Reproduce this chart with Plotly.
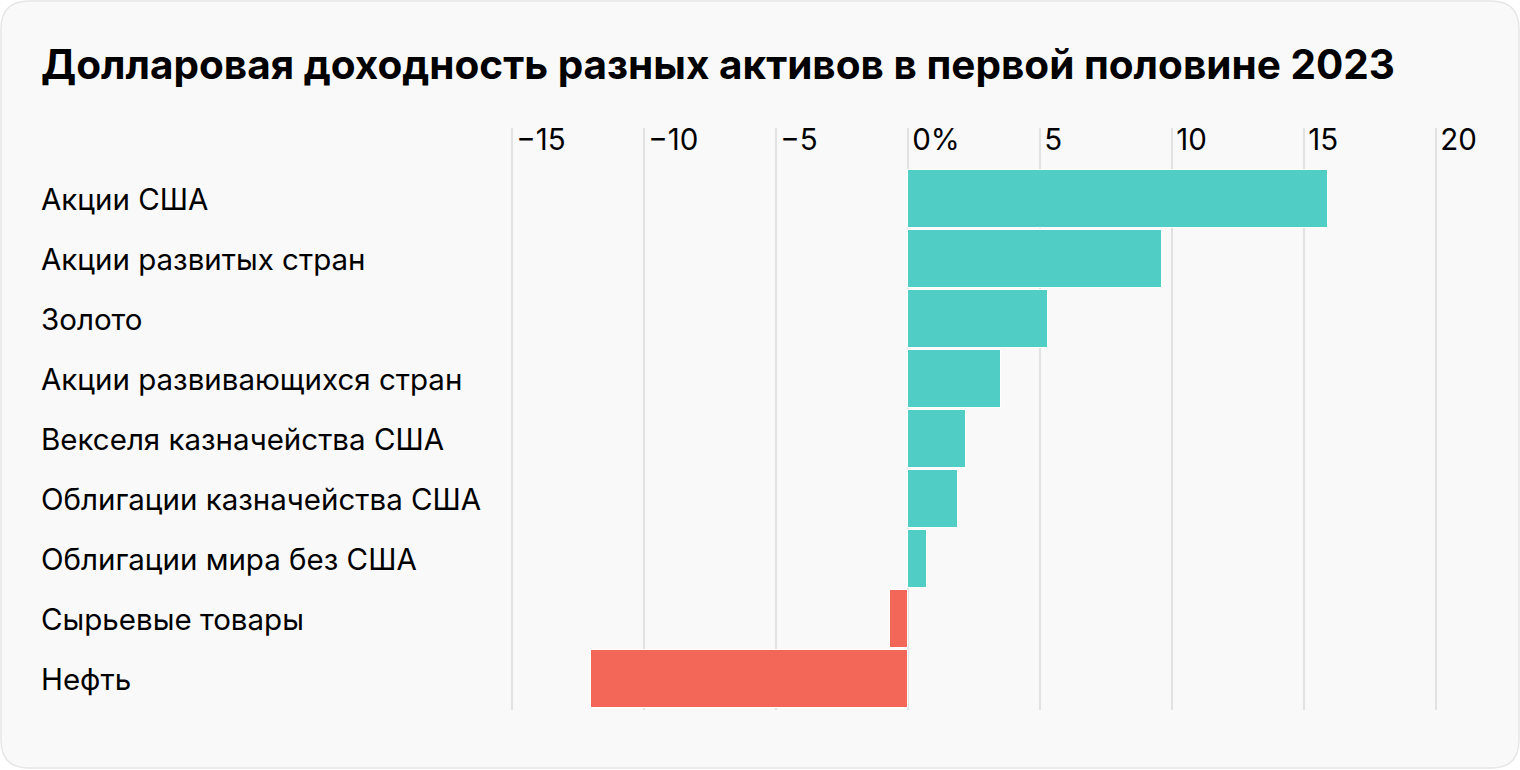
import plotly.graph_objects as go

# ---- data ----
categories = [
    "Акции США",
    "Акции развитых стран",
    "Золото",
    "Акции развивающихся стран",
    "Векселя казначейства США",
    "Облигации казначейства США",
    "Облигации мира без США",
    "Сырьевые товары",
    "Нефть",
]
values = [15.9, 9.6, 5.3, 3.5, 2.2, 1.9, 0.7, -0.7, -12.0]
tick_values = [-15, -10, -5, 0, 5, 10, 15, 20]
tick_labels = ["−15", "−10", "−5", "0%", "5", "10", "15", "20"]
title_text = "Долларовая доходность разных активов в первой половине 2023"

# ---- styling ----
W, H = 1520, 770
POS_COLOR = "#50CDC4"
NEG_COLOR = "#F26757"
CARD_COLOR = "#F9F9F9"
CARD_LINE = "#E6E6E6"
GRID_COLOR = "#E2E2E2"
FONT = "Inter, Roboto, sans-serif"
TEXT_COLOR = "#000000"

UNIT = 26.4  # px per 1 percentage point
xr = [-15.2, 22.0]
L, T = 507, 128
PW = round((xr[1] - xr[0]) * UNIT)
PH = 582
R = W - L - PW
B = H - T - PH
n = len(categories)
yr = [n - 1 + 0.517, n - 1 + 0.517 - PH / 60.0]


def px_to_paper_x(px):
    return (px - L) / PW


def px_to_paper_y(py):
    return 1 - (py - T) / PH


ypos = list(range(n))
colors = [POS_COLOR if v >= 0 else NEG_COLOR for v in values]

fig = go.Figure()
fig.add_trace(
    go.Bar(
        x=values,
        y=ypos,
        orientation="h",
        width=0.967,
        marker=dict(color=colors, line=dict(color="#FFFFFF", width=1)),
        hoverinfo="skip",
    )
)

# card background with rounded corners
x0, y0 = px_to_paper_x(1), px_to_paper_y(1)
x1, y1 = px_to_paper_x(W - 1), px_to_paper_y(H - 2)
rx = 28 / PW
ry = 28 / PH
path = (
    f"M {x0 + rx},{y0} L {x1 - rx},{y0} "
    f"Q {x1},{y0} {x1},{y0 - ry} "
    f"L {x1},{y1 + ry} Q {x1},{y1} {x1 - rx},{y1} "
    f"L {x0 + rx},{y1} Q {x0},{y1} {x0},{y1 + ry} "
    f"L {x0},{y0 - ry} Q {x0},{y0} {x0 + rx},{y0} Z"
)
fig.add_shape(
    type="path",
    path=path,
    xref="paper",
    yref="paper",
    fillcolor=CARD_COLOR,
    line=dict(color=CARD_LINE, width=1.5),
    layer="below",
)

# category labels (left aligned)
for i, c in enumerate(categories):
    fig.add_annotation(
        x=px_to_paper_x(41),
        xref="paper",
        y=i,
        yref="y",
        text=c,
        showarrow=False,
        xanchor="left",
        yanchor="middle",
        xshift=-2,
        font=dict(family=FONT, size=29.5, color=TEXT_COLOR),
    )

fig.update_layout(
    width=W,
    height=H,
    margin=dict(l=L, r=R, t=T, b=B),
    paper_bgcolor="#FFFFFF",
    plot_bgcolor="rgba(0,0,0,0)",
    showlegend=False,
    bargap=0,
    title=dict(
        text=f"<b>{title_text}</b>",
        xref="container",
        yref="container",
        x=41 / W,
        xanchor="left",
        y=1 - 65 / H,
        yanchor="middle",
        font=dict(family=FONT, size=40.5, color=TEXT_COLOR),
    ),
    xaxis=dict(
        range=xr,
        side="top",
        tickvals=tick_values,
        ticktext=tick_labels,
        ticklabelposition="inside right",
        ticklabelshift=4,
        ticklabelstandoff=-5,
        showgrid=True,
        gridcolor=GRID_COLOR,
        gridwidth=2,
        zeroline=False,
        showline=False,
        ticks="",
        tickfont=dict(family=FONT, size=29.5, color=TEXT_COLOR),
    ),
    yaxis=dict(
        range=yr,
        showticklabels=False,
        showgrid=False,
        zeroline=False,
        showline=False,
        ticks="",
    ),
)

fig.write_html(
    "out.html",
    config={"displayModeBar": False},
    post_script="document.body.style.margin='0';",
)
